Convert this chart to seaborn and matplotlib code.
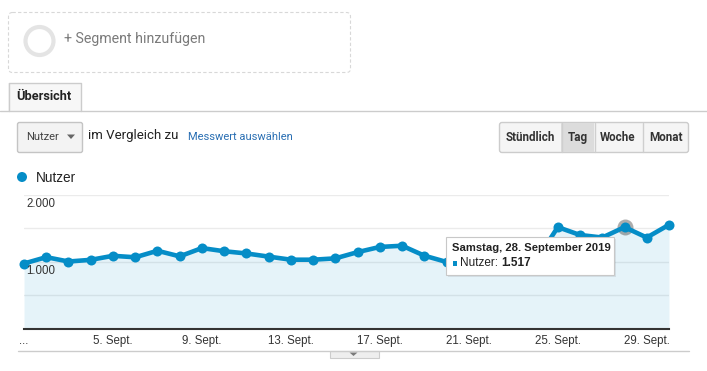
import matplotlib
matplotlib.use("Agg")
import numpy as np
import pandas as pd
import seaborn as sns
import matplotlib.pyplot as plt
from matplotlib.patches import FancyBboxPatch, Rectangle, Circle, Polygon
from matplotlib.lines import Line2D
from matplotlib.transforms import Affine2D, offset_copy

# ---------------- data ----------------
days = list(range(1, 31))
users = [975, 1070, 1005, 1030, 1090, 1068, 1165, 1082, 1205, 1158, 1125, 1078,
         1032, 1032, 1052, 1145, 1222, 1240, 1092, 998, 965, 1005, 1045, 1005,
         1517, 1400, 1362, 1517, 1362, 1552]
x_tick_days = [1, 5, 9, 13, 17, 21, 25, 29]
x_tick_labels = ["...", "5. Sept.", "9. Sept.", "13. Sept.", "17. Sept.",
                 "21. Sept.", "25. Sept.", "29. Sept."]
grid_values = [500, 1000, 1500, 2000]
y_label_values = [1000, 2000]
y_label_texts = ["1.000", "2.000"]
series_name = "Nutzer"
tooltip_day = 28
tooltip_title = "Samstag, 28. September 2019"
tooltip_value_text = "1.517"
buttons = ["Stündlich", "Tag", "Woche", "Monat"]

# ---------------- setup ----------------
W, H = 707, 371
sns.set_theme(style="white")
plt.rcParams['font.family'] = ['Liberation Sans', 'DejaVu Sans']
BLUE = "#058dc7"

fig = plt.figure(figsize=(W / 100, H / 100), dpi=100)
fig.patch.set_facecolor("white")
PX = Affine2D().scale(1, -1).translate(0, H)  # top-left pixel coords

# ---------------- chart ----------------
ax_l, ax_r, ax_t, ax_b = 24, 669, 194.7, 329
ax = fig.add_axes([ax_l / W, 1 - ax_b / H, (ax_r - ax_l) / W, (ax_b - ax_t) / H])
ax.set_facecolor("none")
df = pd.DataFrame({"day": days, series_name: users})

for gv in grid_values:
    ax.axhline(gv, color="#ebebeb", lw=1, zorder=0.5)
ax.fill_between(df["day"], df[series_name], 0, color=BLUE, alpha=0.1, lw=0, zorder=1)

idx = days.index(tooltip_day)
ax.plot([tooltip_day], [users[idx]], "o", ms=11.5, color="#333333", alpha=0.4,
        mec="none", zorder=2, clip_on=False)
sns.lineplot(data=df, x="day", y=series_name, color=BLUE, lw=3.3, marker="o",
             markersize=7.2, markeredgewidth=0, ax=ax, zorder=3, clip_on=False)

ax.set_xlim(1, 30)
ax.set_ylim(0, 2000)
ax.set_xlabel("")
ax.set_ylabel("")
ax.set_yticks([])
ax.set_xticks(x_tick_days)
ax.set_xticklabels(x_tick_labels)
ax.tick_params(axis="x", length=0, pad=4, labelsize=8.3, labelcolor="#333333")
for s in ["top", "left", "right"]:
    ax.spines[s].set_visible(False)
ax.spines["bottom"].set_color("#333333")
ax.spines["bottom"].set_linewidth(1.5)

ytr = offset_copy(ax.get_yaxis_transform(), fig=fig, x=0, y=-3, units="dots")
for v, t in zip(y_label_values, y_label_texts):
    ax.text(2 / (ax_r - ax_l), v, t, transform=ytr, ha="left", va="top",
            fontsize=8.3, color="#333333", zorder=4)

# ---------------- UI around the chart ----------------
def add(artist):
    fig.add_artist(artist)
    return artist

def ptext(x, y, s, **kw):
    kw.setdefault("va", "center")
    kw.setdefault("ha", "left")
    return fig.text(x, y, s, transform=PX, **kw)

UI = ['Roboto', 'DejaVu Sans']

# segment box
add(FancyBboxPatch((8.5, 12.5), 342, 60, boxstyle="round,pad=0,rounding_size=4",
                   transform=PX, fill=False, ec="#d8d8d8", lw=0.8, ls=(0, (3, 2))))
add(Circle((39.5, 41), 14, transform=PX, fill=False, ec="#e4e4e4", lw=3.0))
ptext(64, 39, "+ Segment hinzufügen", fontsize=10.2, color="#7a7a7a", family=UI)

# tab line + tab
add(Line2D([0, W], [110.5, 110.5], transform=PX, color="#cccccc", lw=1))
add(Rectangle((8, 82.5), 73, 28.5, transform=PX, fc="#f7f7f7", ec="none"))
add(Line2D([8.5, 8.5, 80.5, 80.5], [111, 82.5, 82.5, 111], transform=PX,
           color="#cccccc", lw=1))
ptext(16, 97, "Übersicht", fontsize=9.2, fontweight="bold", color="#222222", family=UI)

# dropdown
add(FancyBboxPatch((17.5, 122.5), 65, 30, boxstyle="round,pad=0,rounding_size=2",
                   transform=PX, fc="#f3f3f3", ec="#c4c4c4", lw=1))
ptext(26, 137.5, series_name, fontsize=8.0, color="#444444", family=UI)
add(Polygon([(67, 134.5), (75, 134.5), (71, 139)], closed=True, transform=PX,
            fc="#666666", ec="none"))
ptext(88, 136, "im Vergleich zu", fontsize=9.5, color="#222222", family=UI)
ptext(188, 137.5, "Messwert auswählen", fontsize=8.0, color="#2a6fb3", family=UI)

# button group
add(FancyBboxPatch((499.5, 122.5), 189, 30, boxstyle="round,pad=0,rounding_size=2.5",
                   transform=PX, fc="#f5f5f5", ec="#cccccc", lw=1))
add(Rectangle((561, 123), 33, 29, transform=PX, fc="#dcdcdc", ec="none"))
for dx in [561, 594, 642]:
    add(Line2D([dx + 0.5, dx + 0.5], [123, 152], transform=PX, color="#cfcfcf", lw=1))
for bx, b in zip([530, 577.5, 618, 665.5], buttons):
    ptext(bx, 137.5, b, ha="center", fontsize=8.4, fontweight="bold",
          color="#333333", family=UI)

# legend
add(Circle((22, 177), 5, transform=PX, fc=BLUE, ec="none"))
ptext(36, 177.5, series_name, fontsize=9.8, color="#222222")

# bottom rule + handle
add(Line2D([18, 689], [350.5, 350.5], transform=PX, color="#cccccc", lw=1))
add(Rectangle((329.5, 350.5), 49, 7.5, transform=PX, fc="#eeeeee", ec="#cccccc", lw=0.8))
add(Polygon([(349.5, 352.5), (357.5, 352.5), (353.5, 356)], closed=True, transform=PX,
            fc="#7a7a7a", ec="none"))

# tooltip
add(Rectangle((447.5, 238.5), 168, 38, transform=PX, fc="#000000", alpha=0.08,
              ec="none", zorder=4))
add(Rectangle((446, 237), 168, 38, transform=PX, fc="white", ec="#c8c8c8", lw=0.8,
              zorder=5))
ptext(452, 248, tooltip_title, fontsize=8.1, fontweight="bold", color="#222222", zorder=6)
add(Rectangle((452.5, 261), 4.5, 4.5, transform=PX, fc=BLUE, ec="none", zorder=6))
t1 = ptext(460, 263.5, series_name + ": ", fontsize=8.5, color="#222222", zorder=6)
fig.canvas.draw()
bb = t1.get_window_extent()
ptext(460 + bb.width, 263.5, tooltip_value_text, fontsize=8.5, fontweight="bold",
      color="#222222", zorder=6)

fig.savefig("out.png", dpi=100)
